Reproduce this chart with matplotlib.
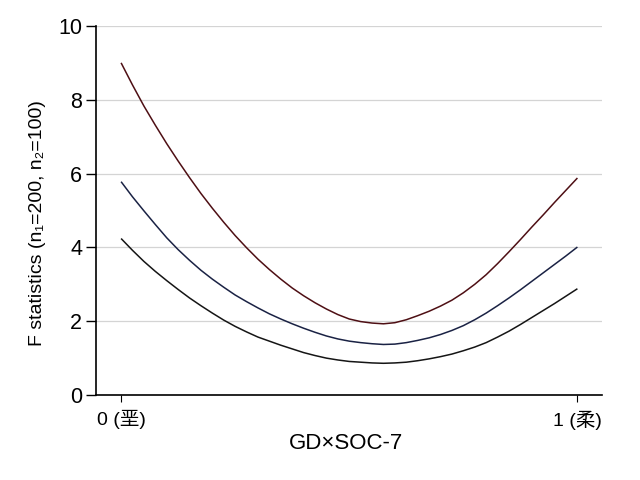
import matplotlib
matplotlib.use("Agg")
import matplotlib.pyplot as plt

# x positions (0 = 垩, 1 = 柔), values every 0.025
x_vals = [0.000, 0.025, 0.050, 0.075, 0.100, 0.125, 0.150, 0.175, 0.200, 0.225,
          0.250, 0.275, 0.300, 0.325, 0.350, 0.375, 0.400, 0.425, 0.450, 0.475,
          0.500, 0.525, 0.550, 0.575, 0.600, 0.625, 0.650, 0.675, 0.700, 0.725,
          0.750, 0.775, 0.800, 0.825, 0.850, 0.875, 0.900, 0.925, 0.950, 0.975,
          1.000]
red_vals = [9.00, 8.40, 7.83, 7.31, 6.81, 6.34, 5.89, 5.46, 5.06, 4.68,
            4.32, 3.99, 3.68, 3.40, 3.14, 2.90, 2.69, 2.50, 2.33, 2.18,
            2.06, 1.99, 1.95, 1.93, 1.96, 2.04, 2.15, 2.27, 2.41, 2.57,
            2.77, 3.00, 3.26, 3.56, 3.88, 4.21, 4.55, 4.88, 5.22, 5.55,
            5.88]
blue_vals = [5.78, 5.37, 4.99, 4.62, 4.26, 3.94, 3.65, 3.38, 3.14, 2.92,
             2.71, 2.53, 2.36, 2.20, 2.06, 1.93, 1.81, 1.70, 1.60, 1.52,
             1.46, 1.42, 1.39, 1.37, 1.38, 1.42, 1.48, 1.55, 1.64, 1.75,
             1.88, 2.04, 2.22, 2.42, 2.63, 2.85, 3.08, 3.31, 3.54, 3.77,
             4.01]
black_vals = [4.24, 3.92, 3.62, 3.35, 3.10, 2.86, 2.63, 2.42, 2.22, 2.03,
              1.86, 1.71, 1.57, 1.46, 1.35, 1.25, 1.15, 1.07, 1.00, 0.95,
              0.91, 0.89, 0.87, 0.86, 0.87, 0.89, 0.93, 0.98, 1.04, 1.11,
              1.20, 1.30, 1.42, 1.57, 1.73, 1.91, 2.10, 2.29, 2.48, 2.68,
              2.88]
x_ticks = [0, 1]
x_ticklabels = ["0 (垩)", "1 (柔)"]
y_ticks = [0, 2, 4, 6, 8, 10]

plt.rcParams['font.family'] = ['Liberation Sans', 'Noto Sans CJK SC', 'DejaVu Sans']

fig = plt.figure(figsize=(6.4, 4.8), dpi=100)
ax = fig.add_axes([0.15, 0.177, 0.79, 0.769])

kw = dict(lw=1.1, solid_joinstyle='round', solid_capstyle='butt')
ax.plot(x_vals, red_vals, color='#4e0f14', **kw)
ax.plot(x_vals, blue_vals, color='#1a2244', **kw)
ax.plot(x_vals, black_vals, color='#151515', **kw)

ax.set_xlim(-0.055, 1.053)
ax.set_ylim(0, 10)
ax.set_yticks(y_ticks)
ax.set_yticklabels([str(v) for v in y_ticks], fontsize=15.5)
ax.set_xticks(x_ticks)
ax.set_xticklabels(x_ticklabels, fontsize=14)

ax.yaxis.grid(True, color='#d4d4d4', lw=0.9)
ax.set_axisbelow(True)
for s in ['top', 'right']:
    ax.spines[s].set_visible(False)
for s in ['left', 'bottom']:
    ax.spines[s].set_linewidth(1.2)
    ax.spines[s].set_color('black')
ax.tick_params(axis='y', length=7, width=1.0, pad=3)
ax.tick_params(axis='x', length=5, width=0.8, pad=6)

ax.set_ylabel("F statistics (n\u2081=200, n\u2082=100)", fontsize=14)
ax.yaxis.set_label_coords(-0.099, 0.467)
ax.set_xlabel("GD×SOC-7", fontsize=16)
ax.xaxis.set_label_coords(0.494, -0.102)

fig.savefig("out.png", dpi=100)
